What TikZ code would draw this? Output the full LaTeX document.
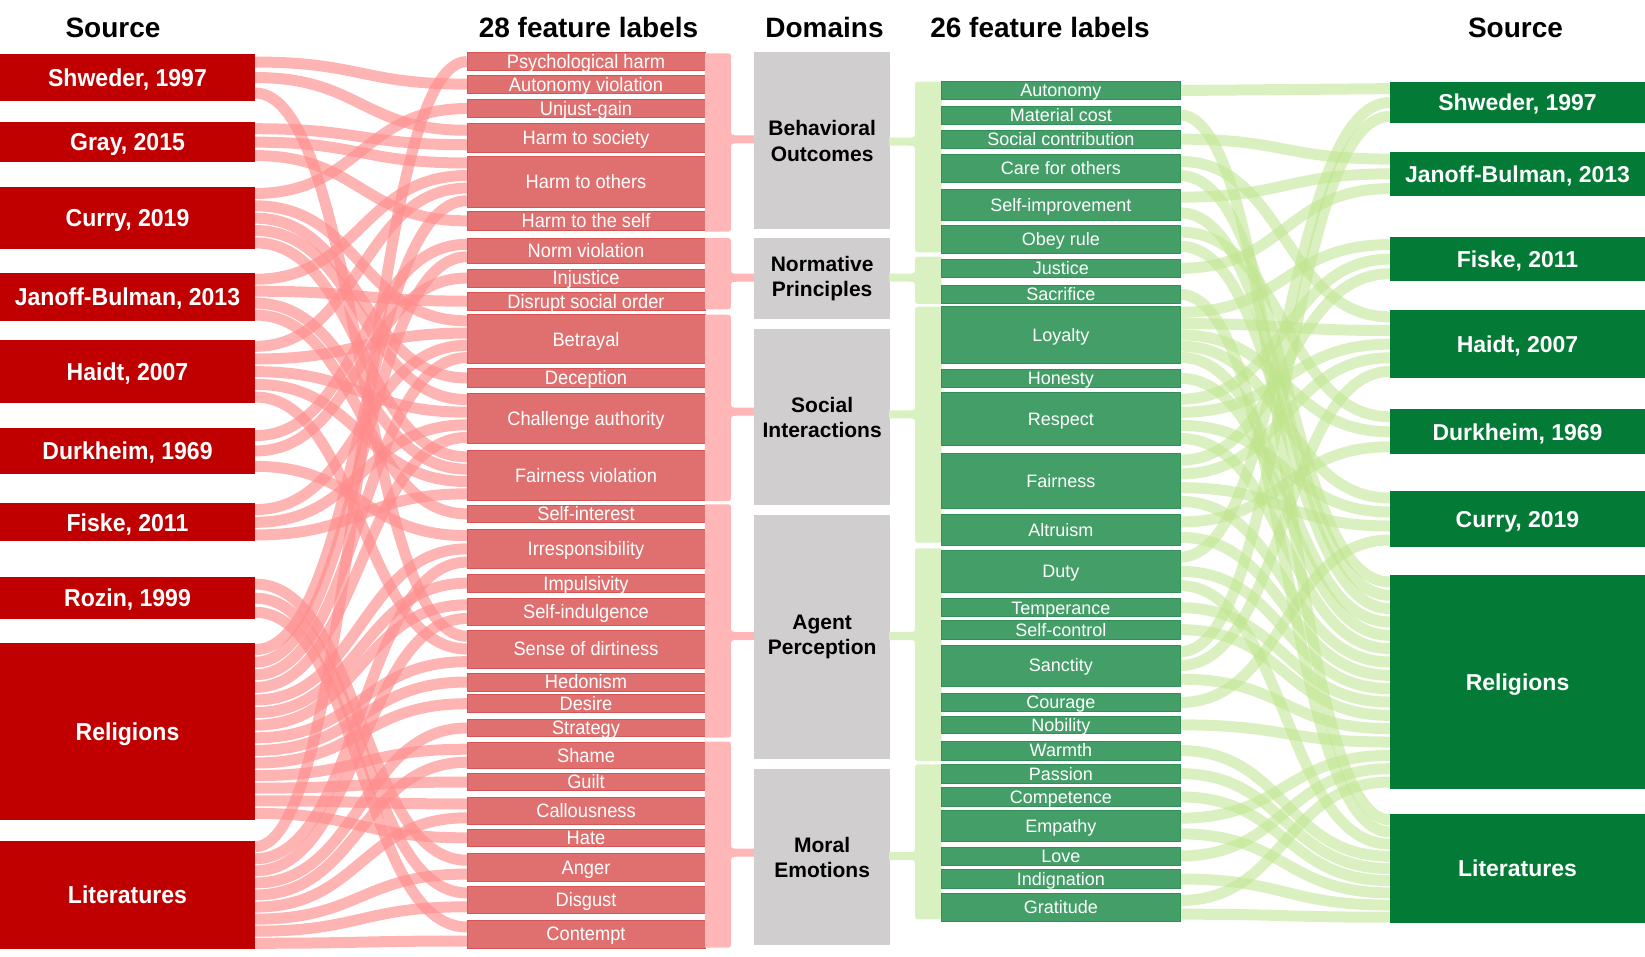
\documentclass[tikz,border=0pt]{standalone}
\usepackage{fontspec}
\setmainfont{Liberation Sans}
\newfontfamily\nar[FakeStretch=0.94]{Liberation Sans}
\pgfdeclarelayer{bg}
\pgfsetlayers{bg,main}
\definecolor{srcred}{RGB}{192,0,0}
\definecolor{featred}{RGB}{224,112,112}
\definecolor{featredline}{RGB}{214,84,84}
\definecolor{brred}{RGB}{255,182,182}
\definecolor{flowred}{RGB}{255,140,140}
\definecolor{domgray}{RGB}{208,206,206}
\definecolor{featgreen}{RGB}{67,159,103}
\definecolor{featgreenline}{RGB}{52,142,88}
\definecolor{srcgreen}{RGB}{3,122,53}
\definecolor{brgreen}{RGB}{217,241,192}
\definecolor{flowgreen}{RGB}{190,228,140}
\tikzset{
  title/.style={font=\bfseries\fontsize{28}{30}\selectfont, inner sep=0pt},
  srcL/.style={fill=srcred, text=white, font=\nar\bfseries\fontsize{24.5}{26}\selectfont, text height=17.5pt, text depth=0pt},
  srcR/.style={fill=srcgreen, text=white, font=\bfseries\fontsize{23}{25}\selectfont, text height=16.5pt, text depth=0pt},
  featR/.style={fill=featred, draw=featredline, line width=0.8pt, text=white, font=\nar\fontsize{19.4}{21}\selectfont, text height=13.9pt, text depth=0pt},
  featG/.style={fill=featgreen, draw=featgreenline, line width=0.8pt, text=white, font=\fontsize{18}{20}\selectfont, text height=12.9pt, text depth=0pt},
  dom/.style={fill=domgray, text=black, align=center, font=\bfseries\fontsize{21}{25.5}\selectfont},
  flowL/.style={draw=flowred, draw opacity=0.65, line width=11pt},
  flowR/.style={draw=flowgreen, draw opacity=0.55, line width=11pt}
}
% box: style, name, x1, y1, x2, y2, text
\newcommand\Bx[7]{%
  \pgfmathsetmacro\bxw{#5-#3}\pgfmathsetmacro\bxh{#6-#4}%
  \expandafter\xdef\csname h@#2\endcsname{\bxh}%
  \expandafter\xdef\csname n@#2\endcsname{0}%
  \expandafter\xdef\csname k@#2\endcsname{0}%
  \node[#1, anchor=north west, minimum width=\bxw pt, minimum height=\bxh pt, inner sep=0pt, outer sep=0pt] (#2) at (#3,#4) {#7};%
}
\newcommand\Inc[2]{\expandafter\xdef\csname #1@#2\endcsname{\the\numexpr\csname #1@#2\endcsname+1\relax}}
\newcommand\Cnt[2]{\Inc{n}{#1}\Inc{n}{#2}}
\newcommand\Drw[3]{%
  \edef\ka{\csname k@#1\endcsname}\edef\ha{\csname h@#1\endcsname}\edef\na{\csname n@#1\endcsname}%
  \edef\kb{\csname k@#2\endcsname}\edef\hb{\csname h@#2\endcsname}\edef\nb{\csname n@#2\endcsname}%
  \pgfmathsetmacro\ya{(\ka+0.5)*\ha/\na}%
  \pgfmathsetmacro\yb{(\kb+0.5)*\hb/\nb}%
  \Inc{k}{#1}\Inc{k}{#2}%
  \draw[#3] ([yshift=-\ya pt]#1.north east) .. controls +(105,0) and +(-105,0) .. ([yshift=-\yb pt]#2.north west);%
}
% bracket: flat x, bar x, tip x, top, bottom, nose y, direction, colour
\newcommand\Brk[8]{%
  \fill[#8] (#1,#4) -- ({#2-#7*6},#4) .. controls (#2,#4) .. (#2,{#4+6}) -- (#2,{#6-10}) .. controls (#2,{#6-4}) .. ({#2+#7*8},{#6-4}) -- (#3,{#6-4}) -- (#3,{#6+4}) -- ({#2+#7*8},{#6+4}) .. controls (#2,{#6+4}) .. (#2,{#6+10}) -- (#2,{#5-6}) .. controls (#2,#5) .. ({#2-#7*6},#5) -- (#1,#5) -- cycle;%
}
\newcommand\LeftLinks{%
\lk{LLi}{fPsy}
\lk{LSh}{fAut}
\lk{LCu}{fUnj}
\lk{LSh}{fSoc}\lk{LGr}{fSoc}
\lk{LGr}{fOth}\lk{LJa}{fOth}\lk{LHa}{fOth}\lk{LRe}{fOth}
\lk{LGr}{fSelf}
\lk{LDu}{fNorm}\lk{LRe}{fNorm}
\lk{LDu}{fInj}
\lk{LJa}{fDis}
\lk{LCu}{fBet}\lk{LHa}{fBet}\lk{LFi}{fBet}\lk{LRe}{fBet}
\lk{LCu}{fDec}
\lk{LCu}{fCha}\lk{LHa}{fCha}\lk{LFi}{fCha}\lk{LRe}{fCha}
\lk{LCu}{fFai}\lk{LJa}{fFai}\lk{LHa}{fFai}\lk{LFi}{fFai}
\lk{LJa}{fSin}
\lk{LDu}{fIrr}\lk{LRe}{fIrr}\lk{LLi}{fIrr}
\lk{LRe}{fImp}
\lk{LRe}{fSind}\lk{LLi}{fSind}
\lk{LSh}{fDir}\lk{LHa}{fDir}\lk{LRe}{fDir}
\lk{LRe}{fHed}
\lk{LRe}{fDes}
\lk{LLi}{fStr}
\lk{LRe}{fSha}\lk{LLi}{fSha}
\lk{LRe}{fGui}
\lk{LRe}{fCal}\lk{LLi}{fCal}
\lk{LRe}{fHat}
\lk{LRo}{fAng}\lk{LLi}{fAng}
\lk{LRo}{fDisg}\lk{LLi}{fDisg}
\lk{LRo}{fCon}\lk{LLi}{fCon}}
\newcommand\RightLinks{%
\lk{gAut}{RSh}\lk{gDuty}{RSh}\lk{gSan}{RSh}
\lk{gSoc}{RJa}\lk{gSimp}{RJa}\lk{gJus}{RJa}
\lk{gLoy}{RFi}\lk{gRes}{RFi}\lk{gFai}{RFi}
\lk{gCare}{RHa}\lk{gLoy}{RHa}\lk{gRes}{RHa}\lk{gFai}{RHa}\lk{gSan}{RHa}
\lk{gObey}{RDu}\lk{gLoy}{RDu}\lk{gAlt}{RDu}
\lk{gLoy}{RCu}\lk{gRes}{RCu}\lk{gFai}{RCu}\lk{gCou}{RCu}
\lk{gCare}{RRe}\lk{gSimp}{RRe}\lk{gObey}{RRe}\lk{gLoy}{RRe}\lk{gHon}{RRe}\lk{gRes}{RRe}\lk{gFai}{RRe}\lk{gAlt}{RRe}\lk{gDuty}{RRe}\lk{gTem}{RRe}\lk{gScon}{RRe}\lk{gSan}{RRe}\lk{gNob}{RRe}\lk{gEmp}{RRe}\lk{gLove}{RRe}\lk{gGra}{RRe}
\lk{gMat}{RLi}\lk{gSac}{RLi}\lk{gDuty}{RLi}\lk{gWar}{RLi}\lk{gPas}{RLi}\lk{gCom}{RLi}\lk{gEmp}{RLi}\lk{gInd}{RLi}\lk{gGra}{RLi}}
\begin{document}
\begin{tikzpicture}[x=1pt,y=-1pt]
\useasboundingbox (0,0) rectangle (1645,956);
% titles
\node[title, anchor=base] (tSrcL) at (113,37) {Source};
\node[title, anchor=base] (tF28) at (588.5,37) {28 feature labels};
\node[title, anchor=base] (tDom) at (824.5,37) {Domains};
\node[title, anchor=base] (tF26) at (1040,37) {26 feature labels};
\node[title, anchor=base] (tSrcR) at (1515.5,37) {Source};
% left sources
\Bx{srcL}{LSh}{0}{54.3}{255}{100.7}{Shweder, 1997}
\Bx{srcL}{LGr}{0}{122}{255}{162.3}{Gray, 2015}
\Bx{srcL}{LCu}{0}{187.3}{255}{249}{Curry, 2019}
\Bx{srcL}{LJa}{0}{273.3}{255}{321}{Janoff-Bulman, 2013}
\Bx{srcL}{LHa}{0}{340}{255}{403.3}{Haidt, 2007}
\Bx{srcL}{LDu}{0}{428}{255}{474}{Durkheim, 1969}
\Bx{srcL}{LFi}{0}{503.3}{255}{541.3}{Fiske, 2011}
\Bx{srcL}{LRo}{0}{577}{255}{619.3}{Rozin, 1999}
\Bx{srcL}{LRe}{0}{643.3}{255}{819.7}{Religions}
\Bx{srcL}{LLi}{0}{840.7}{255}{949.3}{Literatures}
% red features
\Bx{featR}{fPsy}{467}{52.3}{705}{70.7}{Psychological harm}
\Bx{featR}{fAut}{467}{75.3}{705}{93}{Autonomy violation}
\Bx{featR}{fUnj}{467}{99.7}{705}{117.3}{Unjust-gain}
\Bx{featR}{fSoc}{467}{123}{705}{152}{Harm to society}
\Bx{featR}{fOth}{467}{156.7}{705}{207}{Harm to others}
\Bx{featR}{fSelf}{467}{211.7}{705}{230}{Harm to the self}
\Bx{featR}{fNorm}{467}{238}{705}{263}{Norm violation}
\Bx{featR}{fInj}{467}{269}{705}{287}{Injustice}
\Bx{featR}{fDis}{467}{292.3}{705}{310}{Disrupt social order}
\Bx{featR}{fBet}{467}{314.7}{705}{363.7}{Betrayal}
\Bx{featR}{fDec}{467}{368.7}{705}{387.3}{Deception}
\Bx{featR}{fCha}{467}{393.3}{705}{443.7}{Challenge authority}
\Bx{featR}{fFai}{467}{450.7}{705}{500}{Fairness violation}
\Bx{featR}{fSin}{467}{505}{705}{522.7}{Self-interest}
\Bx{featR}{fIrr}{467}{529}{705}{568.7}{Irresponsibility}
\Bx{featR}{fImp}{467}{574}{705}{592.3}{Impulsivity}
\Bx{featR}{fSind}{467}{598}{705}{625.3}{Self-indulgence}
\Bx{featR}{fDir}{467}{630}{705}{668}{Sense of dirtiness}
\Bx{featR}{fHed}{467}{673}{705}{691}{Hedonism}
\Bx{featR}{fDes}{467}{694.7}{705}{712.7}{Desire}
\Bx{featR}{fStr}{467}{719.3}{705}{736.7}{Strategy}
\Bx{featR}{fSha}{467}{742.7}{705}{768.7}{Shame}
\Bx{featR}{fGui}{467}{773.3}{705}{790.7}{Guilt}
\Bx{featR}{fCal}{467}{797}{705}{824.7}{Callousness}
\Bx{featR}{fHat}{467}{829}{705}{846.7}{Hate}
\Bx{featR}{fAng}{467}{853.3}{705}{881}{Anger}
\Bx{featR}{fDisg}{467}{886}{705}{913.7}{Disgust}
\Bx{featR}{fCon}{467}{920}{705}{948}{Contempt}
% red brackets
\Brk{705}{731}{755}{53.3}{231.7}{139.3}{1}{brred}
\Brk{705}{731}{755}{238}{309.3}{277.7}{1}{brred}
\Brk{705}{731}{755}{314.7}{501}{411.7}{1}{brred}
\Brk{705}{731}{755}{504.3}{737.7}{636}{1}{brred}
\Brk{705}{731}{755}{741.7}{947.7}{852.7}{1}{brred}
% domains
\Bx{dom}{dBO}{754.3}{52.3}{890}{229.3}{Behavioral\\Outcomes}
\Bx{dom}{dNP}{754.3}{238.3}{890}{319.3}{Normative\\Principles}
\Bx{dom}{dSI}{754.3}{329.3}{890}{505.3}{Social\\Interactions}
\Bx{dom}{dAP}{754.3}{515}{890}{759.3}{Agent\\Perception}
\Bx{dom}{dME}{754.3}{769.3}{890}{945.3}{Moral\\Emotions}
% green brackets
\Brk{941.7}{915}{889}{81.7}{252.3}{141.7}{(-1)}{brgreen}
\Brk{941.7}{915}{889}{256.7}{304}{277.7}{(-1)}{brgreen}
\Brk{941.7}{915}{889}{306.7}{542.7}{414.3}{(-1)}{brgreen}
\Brk{941.7}{915}{889}{548.3}{761}{636}{(-1)}{brgreen}
\Brk{941.7}{915}{889}{764.3}{919.3}{856}{(-1)}{brgreen}
% green features
\Bx{featG}{gAut}{941.7}{81.7}{1180}{99.3}{Autonomy}
\Bx{featG}{gMat}{941.7}{106}{1180}{124}{Material cost}
\Bx{featG}{gSoc}{941.7}{130}{1180}{148.3}{Social contribution}
\Bx{featG}{gCare}{941.7}{154.3}{1180}{182.7}{Care for others}
\Bx{featG}{gSimp}{941.7}{189.3}{1180}{220.7}{Self-improvement}
\Bx{featG}{gObey}{941.7}{225}{1180}{253.3}{Obey rule}
\Bx{featG}{gJus}{941.7}{259.3}{1180}{277.3}{Justice}
\Bx{featG}{gSac}{941.7}{285.3}{1180}{303.3}{Sacrifice}
\Bx{featG}{gLoy}{941.7}{306.7}{1180}{363}{Loyalty}
\Bx{featG}{gHon}{941.7}{369.3}{1180}{387.3}{Honesty}
\Bx{featG}{gRes}{941.7}{392.7}{1180}{445}{Respect}
\Bx{featG}{gFai}{941.7}{453.3}{1180}{508.3}{Fairness}
\Bx{featG}{gAlt}{941.7}{514.3}{1180}{545}{Altruism}
\Bx{featG}{gDuty}{941.7}{550}{1180}{592.7}{Duty}
\Bx{featG}{gTem}{941.7}{598.7}{1180}{616.7}{Temperance}
\Bx{featG}{gScon}{941.7}{620.3}{1180}{639}{Self-control}
\Bx{featG}{gSan}{941.7}{645}{1180}{686}{Sanctity}
\Bx{featG}{gCou}{941.7}{693.3}{1180}{711.7}{Courage}
\Bx{featG}{gNob}{941.7}{716}{1180}{733.7}{Nobility}
\Bx{featG}{gWar}{941.7}{741}{1180}{760}{Warmth}
\Bx{featG}{gPas}{941.7}{764.3}{1180}{783}{Passion}
\Bx{featG}{gCom}{941.7}{787.7}{1180}{806}{Competence}
\Bx{featG}{gEmp}{941.7}{810.3}{1180}{841.7}{Empathy}
\Bx{featG}{gLove}{941.7}{847}{1180}{865}{Love}
\Bx{featG}{gInd}{941.7}{869.3}{1180}{888.7}{Indignation}
\Bx{featG}{gGra}{941.7}{893.7}{1180}{921}{Gratitude}
% right sources
\Bx{srcR}{RSh}{1390}{81.7}{1645}{123.3}{Shweder, 1997}
\Bx{srcR}{RJa}{1390}{151.7}{1645}{196}{Janoff-Bulman, 2013}
\Bx{srcR}{RFi}{1390}{237.3}{1645}{281}{Fiske, 2011}
\Bx{srcR}{RHa}{1390}{310}{1645}{378.3}{Haidt, 2007}
\Bx{srcR}{RDu}{1390}{409.3}{1645}{454.3}{Durkheim, 1969}
\Bx{srcR}{RCu}{1390}{491}{1645}{547}{Curry, 2019}
\Bx{srcR}{RRe}{1390}{575.3}{1645}{788.7}{Religions}
\Bx{srcR}{RLi}{1390}{813.7}{1645}{923.3}{Literatures}
% flows
\def\lk#1#2{\Cnt{#1}{#2}}
\LeftLinks
\RightLinks
\begin{pgfonlayer}{bg}
\def\lk#1#2{\Drw{#1}{#2}{flowL}}
\LeftLinks
\def\lk#1#2{\Drw{#1}{#2}{flowR}}
\RightLinks
\end{pgfonlayer}
\end{tikzpicture}
\end{document}
